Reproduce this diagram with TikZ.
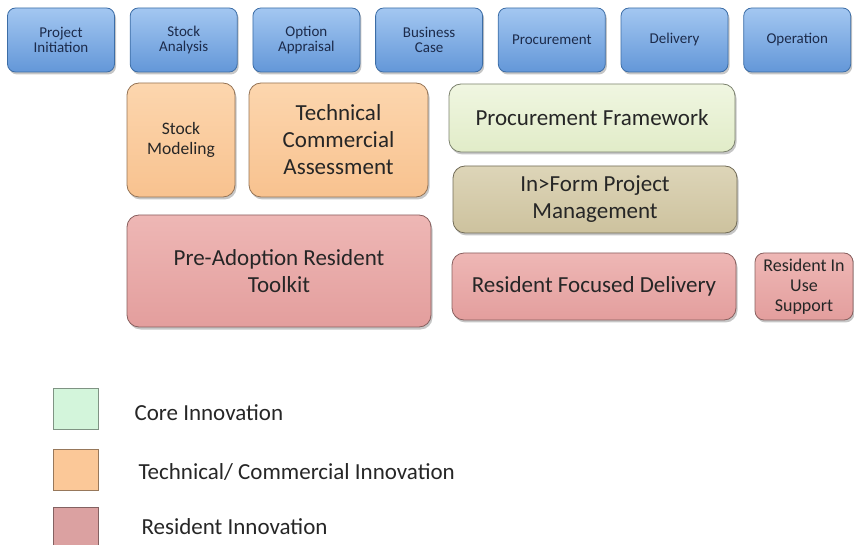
\documentclass[tikz,border=0pt]{standalone}
\usepackage{fontspec}
\setmainfont{Carlito}
\usetikzlibrary{shadows}

\definecolor{phasetop}{HTML}{A3C7F1}
\definecolor{phasebot}{HTML}{6397D8}
\definecolor{phaseline}{HTML}{3C6DA6}
\definecolor{phasetext}{HTML}{1C2B4B}
\definecolor{orangetop}{HTML}{FCD6AE}
\definecolor{orangebot}{HTML}{F8C28F}
\definecolor{pinktop}{HTML}{EEB7B5}
\definecolor{pinkbot}{HTML}{E39E9D}
\definecolor{greentop}{HTML}{F0F6E1}
\definecolor{greenbot}{HTML}{E1ECC8}
\definecolor{olivetop}{HTML}{DDD5B8}
\definecolor{olivebot}{HTML}{CDC29E}
\definecolor{boxtext}{HTML}{262626}
\definecolor{keycorecol}{HTML}{D3F5DB}
\definecolor{keytechcol}{HTML}{FBC898}
\definecolor{keyrescol}{HTML}{DBA1A1}

\begin{document}
\begin{tikzpicture}[
  x=1pt, y=-1pt,
  shade/.style={drop shadow={shadow xshift=1.5pt,shadow yshift=-2.5pt,opacity=0.45}},
  phase/.style={rounded corners=8pt,draw=phaseline,line width=0.8pt,
    top color=phasetop,bottom color=phasebot,shade,
    minimum width=107pt,minimum height=64pt,inner sep=0pt,align=center,
    text=phasetext,font=\fontsize{15}{15.5}\selectfont},
  blk/.style={rounded corners=12pt,line width=0.8pt,shade,inner sep=0pt,
    align=center,text=boxtext,font=\fontsize{23}{27}\selectfont},
  small/.style={font=\fontsize{17.5}{20.5}\selectfont},
  orange/.style={blk,draw=orangebot!60!black,top color=orangetop,bottom color=orangebot},
  pink/.style={blk,draw=pinkbot!60!black,top color=pinktop,bottom color=pinkbot},
  green/.style={blk,draw=greenbot!55!black,top color=greentop,bottom color=greenbot},
  olive/.style={blk,draw=olivebot!55!black,top color=olivetop,bottom color=olivebot},
  key/.style={draw=#1!60!black,line width=0.6pt,fill=#1,
    minimum width=45pt,minimum height=41pt,inner sep=0pt},
  keytext/.style={anchor=west,text=boxtext,font=\fontsize{23}{27}\selectfont},
]
\clip (0,0) rectangle (854,545);

% ---- project stages ----
\foreach \txt [count=\i] in {{Project\\Initiation},{Stock\\Analysis},{Option\\Appraisal},
    {Business\\Case},{Procurement},{Delivery},{Operation}}{%
  \pgfmathsetmacro{\cx}{61+(\i-1)*122.7}%
  \node[phase] (p\i) at (\cx,40) {\txt};%
}

% ---- innovation blocks ----
\node[orange,small,minimum width=108pt,minimum height=114pt] (stockmod) at (181,140) {Stock\\Modeling};
\node[orange,minimum width=179pt,minimum height=114pt] (techass) at (338.5,140) {Technical\\Commercial\\Assessment};
\node[pink,minimum width=304pt,minimum height=112pt] (preadopt) at (279,271) {Pre-Adoption Resident\\Toolkit};

\node[green,minimum width=286pt,minimum height=68pt] (procfw) at (592,118) {Procurement Framework};
\node[olive,minimum width=284pt,minimum height=67pt] (inform) at (595,199.5) {In>Form Project\\Management};
\node[pink,minimum width=284pt,minimum height=67pt] (resdel) at (594,286.5) {Resident Focused Delivery};
\node[pink,small,font=\fontsize{18}{20}\selectfont,rounded corners=9pt,minimum width=98pt,minimum height=67pt] (resuse) at (804,286.5) {Resident In\\Use\\Support};

% ---- legend ----
\node[key=keycorecol] (keycore) at (75.5,408.5) {};
\node[key=keytechcol] (keytech) at (75.5,470) {};
\node[key=keyrescol] (keyres) at (75.5,527.5) {};
\node[keytext] (lblcore) at (131,413) {Core Innovation};
\node[keytext] (lbltech) at (135,472) {Technical/ Commercial Innovation};
\node[keytext] (lblres) at (138,527) {Resident Innovation};
\end{tikzpicture}
\end{document}
